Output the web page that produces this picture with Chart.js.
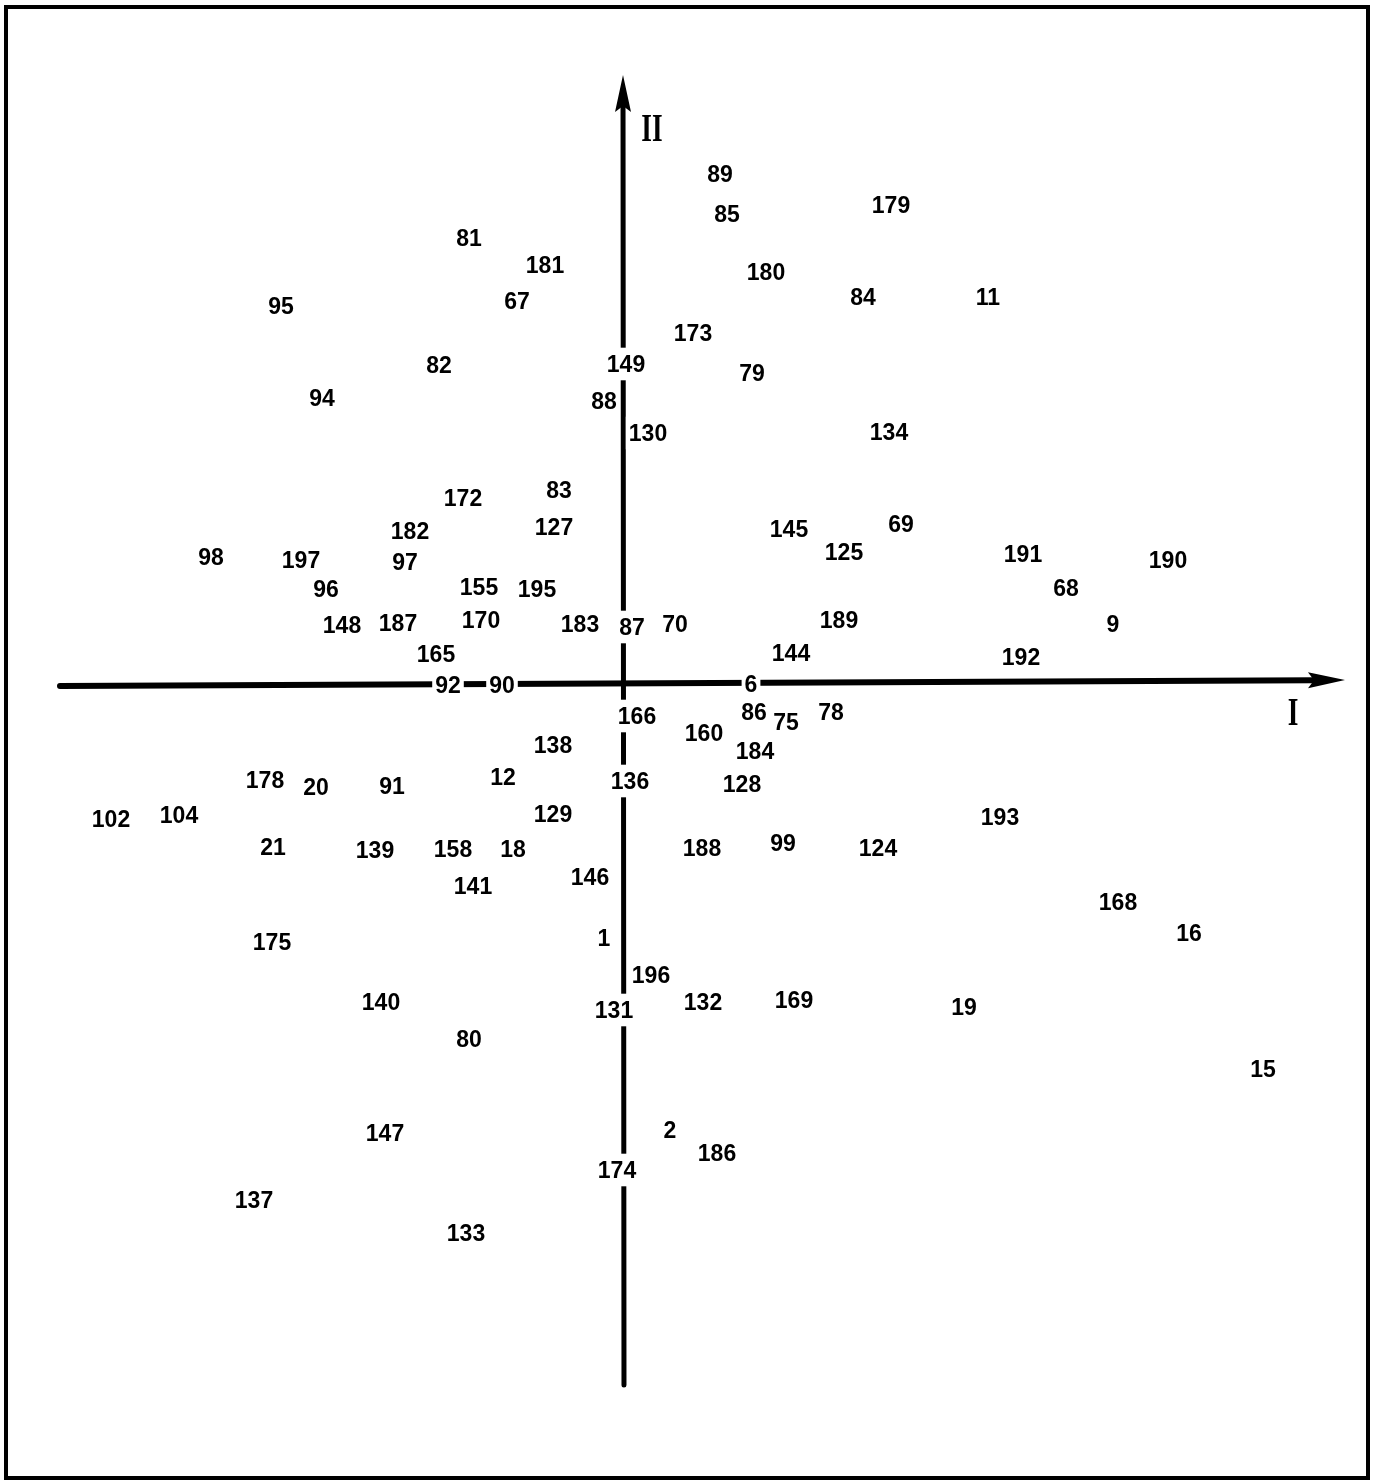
<!DOCTYPE html>
<html>
<head>
<meta charset="utf-8">
<title>Ordination I / II</title>
<script src="https://cdn.jsdelivr.net/npm/chart.js@4.4.1/dist/chart.umd.min.js"></script>
<style>
  html, body { margin: 0; padding: 0; background: #ffffff; }
  #wrap { width: 1374px; height: 1483px; position: relative; }
</style>
</head>
<body>
<div id="wrap"><canvas id="c" width="1374" height="1483"></canvas></div>
<script>
// Sample numbers and their scores on the first two ordination axes
const sampleIds = [
  89, 85, 179, 81, 181, 180, 95, 67, 84, 11,
  173, 149, 82, 79, 94, 88, 130, 134, 83, 172,
  182, 127, 145, 69, 125, 191, 190, 98, 197, 97,
  96, 155, 195, 68, 148, 187, 170, 183, 87, 70,
  189, 9, 165, 144, 192, 92, 90, 6,
  166, 86, 75, 78, 160, 138, 184, 178, 20, 91,
  12, 136, 128, 102, 104, 129, 193, 21, 139, 158,
  18, 188, 99, 124, 146, 141, 168, 16, 175, 1,
  196, 140, 131, 132, 169, 19, 80, 15, 147, 2,
  186, 174, 137, 133
];
const scoreI = [
  0.96, 1.03, 2.67, -1.55, -0.79, 1.42, -3.43, -1.07, 2.39, 3.64,
  0.69, 0.02, -1.85, 1.28, -3.02, -0.20, 0.24, 2.65, -0.65, -1.61,
  -2.14, -0.70, 1.65, 2.77, 2.20, 3.99, 5.44, -4.13, -3.23, -2.19,
  -2.98, -1.45, -0.87, 4.42, -2.82, -2.26, -1.43, -0.44, 0.08, 0.51,
  2.15, 4.89, -1.88, 1.67, 3.97, -1.76, -1.22, 1.27,
  0.13, 1.30, 1.62, 2.07, 0.80, -0.71, 1.31, -3.59, -3.08, -2.32,
  -1.21, 0.06, 1.18, -5.13, -4.45, -0.71, 3.76, -3.51, -2.49, -1.71,
  -1.11, 0.78, 1.59, 2.54, -0.34, -1.51, 4.94, 5.65, -3.52, -0.20,
  0.27, -2.43, -0.10, 0.79, 1.70, 3.40, -1.55, 6.39, -2.39, 0.46,
  0.93, -0.07, -3.70, -1.58
];
const scoreII = [
  5.10, 4.70, 4.79, 4.46, 4.19, 4.12, 3.78, 3.83, 3.87, 3.87,
  3.51, 3.20, 3.19, 3.11, 2.86, 2.83, 2.51, 2.52, 1.94, 1.86,
  1.53, 1.57, 1.55, 1.60, 1.32, 1.30, 1.24, 1.27, 1.24, 1.22,
  0.95, 0.97, 0.95, 0.96, 0.59, 0.61, 0.64, 0.60, 0.57, 0.60,
  0.64, 0.60, 0.30, 0.31, 0.27, -0.01, -0.01, 0.00,
  -0.32, -0.28, -0.38, -0.28, -0.49, -0.61, -0.67, -0.96, -1.03, -1.02,
  -0.93, -0.97, -1.00, -1.35, -1.31, -1.30, -1.33, -1.63, -1.66, -1.65,
  -1.65, -1.64, -1.59, -1.64, -1.93, -2.02, -2.18, -2.49, -2.58, -2.54,
  -2.91, -3.18, -3.26, -3.18, -3.16, -3.23, -3.55, -3.85, -4.49, -4.46,
  -4.69, -4.86, -5.16, -5.49
];

// Extent of the two drawn axes (start and arrow tip) in score units
const axisIStart = [-5.64, -0.02];
const axisIEnd = [7.21, 0.04];
const axisIIStart = [0.00, -7.01];
const axisIIEnd = [-0.01, 6.09];
const axisTitles = { I: 'I', II: 'II' };
const axisIITitlePos = [0.28, 5.53];
const axisITitlePos = [6.69, -0.31];

// Plotted window in score units
const rangeI = [-6.24, 7.50];
const rangeII = [-7.99, 6.84];

const points = sampleIds.map((id, i) => ({ x: scoreI[i], y: scoreII[i], id: id }));

const LABEL_FONT = 'bold 23px "Liberation Sans", Arial, sans-serif';
const TITLE_FONT = 'bold 38px "Liberation Serif", "DejaVu Serif", serif';

function arrowLine(ctx, x0, y0, x1, y1, width) {
  const ang = Math.atan2(y1 - y0, x1 - x0);
  const headLen = 37, headHalf = 8, notch = 6;
  const bx = x1 - Math.cos(ang) * (headLen - notch);
  const by = y1 - Math.sin(ang) * (headLen - notch);
  ctx.save();
  ctx.strokeStyle = '#000';
  ctx.fillStyle = '#000';
  ctx.lineWidth = width;
  ctx.lineCap = 'round';
  ctx.beginPath();
  ctx.moveTo(x0, y0);
  ctx.lineTo(bx, by);
  ctx.stroke();
  // arrow head
  const cx = x1 - Math.cos(ang) * headLen;
  const cy = y1 - Math.sin(ang) * headLen;
  const px = -Math.sin(ang), py = Math.cos(ang);
  ctx.beginPath();
  ctx.moveTo(x1, y1);
  ctx.lineTo(cx + px * headHalf, cy + py * headHalf);
  ctx.lineTo(bx, by);
  ctx.lineTo(cx - px * headHalf, cy - py * headHalf);
  ctx.closePath();
  ctx.fill();
  ctx.restore();
}

const ordinationPlugin = {
  id: 'ordination',
  beforeDatasetsDraw(chart) {
    const ctx = chart.ctx;
    const xs = chart.scales.x, ys = chart.scales.y;
    // outer frame
    ctx.save();
    ctx.strokeStyle = '#000';
    ctx.lineWidth = 4;
    ctx.strokeRect(6, 7, 1362, 1471);
    ctx.restore();
    // axis I (horizontal) and axis II (vertical)
    arrowLine(ctx,
      xs.getPixelForValue(axisIStart[0]), ys.getPixelForValue(axisIStart[1]),
      xs.getPixelForValue(axisIEnd[0]), ys.getPixelForValue(axisIEnd[1]), 6);
    arrowLine(ctx,
      xs.getPixelForValue(axisIIStart[0]), ys.getPixelForValue(axisIIStart[1]),
      xs.getPixelForValue(axisIIEnd[0]), ys.getPixelForValue(axisIIEnd[1]), 5);
  },
  afterDatasetsDraw(chart) {
    const ctx = chart.ctx;
    const meta = chart.getDatasetMeta(0);
    const xs = chart.scales.x, ys = chart.scales.y;
    ctx.save();
    ctx.font = LABEL_FONT;
    ctx.textAlign = 'center';
    ctx.textBaseline = 'alphabetic';
    const capHalf = 8.3, padX = 3, padY = 8;
    meta.data.forEach((el, i) => {
      const txt = String(points[i].id);
      const w = ctx.measureText(txt).width;
      // the label interrupts any axis line running beneath it
      ctx.fillStyle = '#ffffff';
      ctx.fillRect(el.x - w / 2 - padX, el.y - capHalf - padY, w + 2 * padX, 2 * (capHalf + padY));
      ctx.fillStyle = '#000000';
      ctx.fillText(txt, el.x, el.y + capHalf);
    });
    ctx.restore();

    // Roman numeral axis titles, narrow serif
    const drawTitle = (txt, pos) => {
      const px = xs.getPixelForValue(pos[0]);
      const py = ys.getPixelForValue(pos[1]);
      ctx.save();
      ctx.translate(px, py);
      ctx.scale(0.72, 1.05);
      ctx.font = TITLE_FONT;
      ctx.fillStyle = '#000';
      ctx.textAlign = 'center';
      ctx.textBaseline = 'middle';
      ctx.fillText(txt, 0, 0);
      ctx.restore();
    };
    drawTitle(axisTitles.II, axisIITitlePos);
    drawTitle(axisTitles.I, axisITitlePos);
  }
};

new Chart(document.getElementById('c'), {
  type: 'scatter',
  data: {
    datasets: [{
      label: 'samples',
      data: points,
      pointRadius: 0,
      pointHoverRadius: 0,
      borderWidth: 0
    }]
  },
  options: {
    responsive: false,
    animation: false,
    devicePixelRatio: 1,
    layout: { padding: 0, autoPadding: false },
    plugins: { legend: { display: false }, tooltip: { enabled: false } },
    events: [],
    scales: {
      x: { type: 'linear', min: rangeI[0], max: rangeI[1], display: false },
      y: { type: 'linear', min: rangeII[0], max: rangeII[1], display: false }
    }
  },
  plugins: [ordinationPlugin]
});
</script>
</body>
</html>
